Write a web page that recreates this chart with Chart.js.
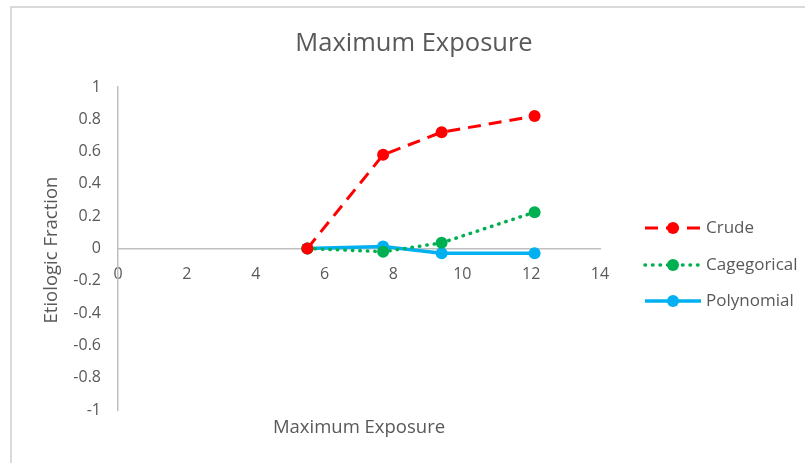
<!DOCTYPE html>
<html>
<head>
<meta charset="utf-8">
<script src="https://cdn.jsdelivr.net/npm/chart.js@4/dist/chart.umd.min.js"></script>
<style>
  html, body { margin: 0; padding: 0; background: #ffffff; }
  #wrap { position: relative; width: 805px; height: 463px; }
</style>
</head>
<body>
<div id="wrap"><canvas id="chart" width="805" height="463"></canvas></div>
<script>
// Exposure levels (x) and etiologic fraction estimates per model
const exposure = [5.5, 7.7, 9.4, 12.1];
const crude = [0, 0.58, 0.72, 0.82];
const categorical = [0, -0.02, 0.035, 0.225];
const polynomial = [0, 0.012, -0.03, -0.03];

const seriesNames = ['Crude', 'Cagegorical', 'Polynomial'];
const chartTitle = 'Maximum Exposure';
const xAxisTitle = 'Maximum Exposure';
const yAxisTitle = 'Etiologic Fraction';

const textColor = '#595959';
const axisColor = '#bfbfbf';
const fontFamily = '"Open Sans", Lato, sans-serif';

function toPoints(xs, ys) {
  return xs.map((x, i) => ({ x: x, y: ys[i] }));
}

// Frame, titles and legend drawn around the plot
const decorations = {
  id: 'decorations',
  beforeDraw(chart) {
    const ctx = chart.ctx;
    ctx.save();
    ctx.fillStyle = '#ffffff';
    ctx.fillRect(0, 0, chart.width, chart.height);
    ctx.fillStyle = '#d9d9d9';
    ctx.fillRect(10, 6, 2, chart.height - 6);
    ctx.fillRect(10, 6, chart.width - 10, 2);
    ctx.restore();
  },
  afterDraw(chart) {
    const ctx = chart.ctx;
    const area = chart.chartArea;
    ctx.save();
    ctx.fillStyle = textColor;
    ctx.textAlign = 'center';
    ctx.textBaseline = 'middle';

    ctx.font = '25.5px ' + fontFamily;
    ctx.fillText(chartTitle, 414, 44);

    ctx.font = '18.5px ' + fontFamily;
    ctx.fillText(xAxisTitle, (area.left + area.right) / 2, 428);

    ctx.save();
    ctx.translate(52, 250);
    ctx.rotate(-Math.PI / 2);
    ctx.fillText(yAxisTitle, 0, 0);
    ctx.restore();

    // Legend: line sample with marker, then label
    const rowsY = [228, 265, 301];
    chart.data.datasets.forEach((ds, i) => {
      const y = rowsY[i];
      ctx.save();
      ctx.strokeStyle = ds.borderColor;
      ctx.lineWidth = ds.borderWidth;
      ctx.lineCap = ds.borderCapStyle || 'butt';
      ctx.setLineDash(ds.borderDash || []);
      ctx.beginPath();
      ctx.moveTo(645, y);
      ctx.lineTo(701, y);
      ctx.stroke();
      ctx.setLineDash([]);
      ctx.fillStyle = ds.pointBackgroundColor;
      ctx.beginPath();
      ctx.arc(673, y, ds.pointRadius, 0, Math.PI * 2);
      ctx.fill();
      ctx.restore();
      ctx.fillStyle = textColor;
      ctx.font = '17px ' + fontFamily;
      ctx.textAlign = 'left';
      ctx.fillText(ds.label, 706, y);
    });
    ctx.restore();
  }
};

new Chart(document.getElementById('chart'), {
  type: 'line',
  data: {
    datasets: [
      {
        label: seriesNames[0],
        data: toPoints(exposure, crude),
        borderColor: '#ff0000',
        backgroundColor: '#ff0000',
        pointBackgroundColor: '#ff0000',
        pointBorderColor: '#ff0000',
        borderWidth: 3,
        borderDash: [13, 8],
        pointRadius: 6,
        pointBorderWidth: 0,
        tension: 0
      },
      {
        label: seriesNames[1],
        data: toPoints(exposure, categorical),
        borderColor: '#00b050',
        backgroundColor: '#00b050',
        pointBackgroundColor: '#00b050',
        pointBorderColor: '#00b050',
        borderWidth: 3.5,
        borderDash: [0.5, 7],
        borderCapStyle: 'round',
        pointRadius: 6,
        pointBorderWidth: 0,
        tension: 0
      },
      {
        label: seriesNames[2],
        data: toPoints(exposure, polynomial),
        borderColor: '#00b0f0',
        backgroundColor: '#00b0f0',
        pointBackgroundColor: '#00b0f0',
        pointBorderColor: '#00b0f0',
        borderWidth: 3.5,
        pointRadius: 6,
        pointBorderWidth: 0,
        tension: 0
      }
    ]
  },
  options: {
    responsive: false,
    animation: false,
    events: [],
    layout: { padding: { left: 0, top: 87, right: 205, bottom: 53 } },
    plugins: {
      legend: { display: false },
      title: { display: false },
      tooltip: { enabled: false }
    },
    scales: {
      x: {
        type: 'linear',
        position: { y: 0 },
        min: 0,
        max: 14,
        grid: { display: false, drawTicks: false },
        border: { display: true, color: axisColor, width: 1.5 },
        ticks: {
          stepSize: 2,
          padding: 16,
          color: textColor,
          font: { family: fontFamily, size: 16 },
          maxRotation: 0
        }
      },
      y: {
        type: 'linear',
        position: 'left',
        min: -1,
        max: 1,
        grid: { display: false, drawTicks: false },
        border: { display: true, color: axisColor, width: 1.5 },
        afterFit(scale) { scale.width = 118; },
        ticks: {
          stepSize: 0.2,
          padding: 17,
          color: textColor,
          font: { family: fontFamily, size: 16 },
          callback: (v) => String(Math.round(v * 10) / 10)
        }
      }
    }
  },
  plugins: [decorations]
});
</script>
</body>
</html>
